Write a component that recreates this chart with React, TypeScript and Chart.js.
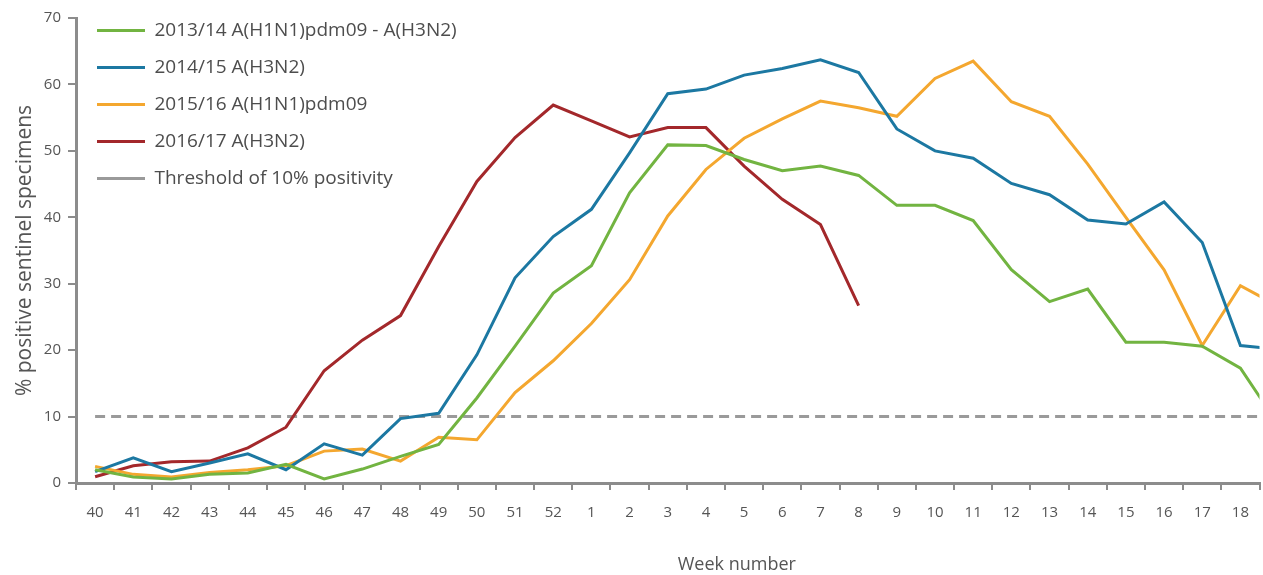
import { useEffect, useRef } from 'react';
import { Chart, registerables } from 'chart.js';

Chart.register(...registerables);

// Week labels (season weeks 40 -> 19); the plot is cut at week 18, week 19 only shows as the line leaving the frame
const WEEKS = ['40', '41', '42', '43', '44', '45', '46', '47', '48', '49', '50', '51', '52',
  '1', '2', '3', '4', '5', '6', '7', '8', '9', '10', '11', '12', '13', '14', '15', '16', '17', '18', '19'];
const LAST_VISIBLE_WEEK = '18';

const SEASON_2013_14 = [2.0, 0.9, 0.6, 1.3, 1.5, 2.8, 0.6, 2.1, 4.0, 5.8, 12.8, 20.6, 28.6,
  32.7, 43.7, 50.9, 50.8, 48.7, 47.0, 47.7, 46.3, 41.8, 41.8, 39.5, 32.1, 27.3, 29.2, 21.2, 21.2, 20.6, 17.3, 8.7];
const SEASON_2014_15 = [1.7, 3.8, 1.7, 3.0, 4.4, 2.0, 5.9, 4.2, 9.7, 10.5, 19.3, 30.9, 37.1,
  41.2, 49.7, 58.6, 59.3, 61.4, 62.4, 63.7, 61.8, 53.3, 50.0, 48.9, 45.1, 43.4, 39.6, 39.0, 42.3, 36.2, 20.7, 20.1];
const SEASON_2015_16 = [2.5, 1.3, 0.9, 1.6, 2.0, 2.6, 4.8, 5.1, 3.3, 6.9, 6.5, 13.6, 18.4,
  24.0, 30.6, 40.2, 47.2, 51.9, 54.8, 57.5, 56.5, 55.2, 60.9, 63.5, 57.4, 55.2, 48.0, 40.0, 32.1, 20.7, 29.7, 26.6];
const SEASON_2016_17 = [0.95, 2.6, 3.2, 3.3, 5.3, 8.4, 16.9, 21.5, 25.2, 35.6, 45.4, 52.0, 56.9,
  54.5, 52.1, 53.5, 53.5, 47.7, 42.7, 38.9, 26.7, null, null, null, null, null, null, null, null, null, null, null];
const THRESHOLD = 10;

const SERIES_LABELS = [
  '2013/14 A(H1N1)pdm09 - A(H3N2)',
  '2014/15 A(H3N2)',
  '2015/16 A(H1N1)pdm09',
  '2016/17 A(H3N2)',
  'Threshold of 10% positivity',
];
const Y_TICK_MIN = 0;
const Y_TICK_MAX = 70;
const Y_TICK_STEP = 10;

const FONT = '"Open Sans", sans-serif';
const TEXT = '#555555';
const AXIS = '#8c8c8c';

export default function App() {
  const canvasRef = useRef<HTMLCanvasElement | null>(null);

  useEffect(() => {
    if (!canvasRef.current) return;

    const lastIndex = WEEKS.indexOf(LAST_VISIBLE_WEEK);
    const toPoints = (values: (number | null)[]) => values.map((y, i) => ({ x: i, y }));

    const xTitlePlugin = {
      id: 'xTitle',
      afterDraw(chart: any) {
        const { ctx, chartArea } = chart;
        ctx.save();
        ctx.font = `18px ${FONT}`;
        ctx.fillStyle = TEXT;
        ctx.textAlign = 'center';
        ctx.textBaseline = 'middle';
        ctx.fillText('Week number', (chartArea.left + chartArea.right) / 2 + 69, 565);
        ctx.restore();
      },
    };

    const legendInsidePlugin = {
      id: 'legendInside',
      afterLayout(chart: any) {
        const lg = chart.legend;
        if (!lg) return;
        lg.left = 79;
        lg.top = 3;
        lg.right = 720;
        lg.bottom = 240;
      },
    };

    const line = (label: string, data: (number | null)[], color: string, dash: number[] = []) => ({
      label,
      data: toPoints(data),
      borderColor: color,
      backgroundColor: color,
      borderWidth: 3,
      borderDash: dash,
      pointRadius: 0,
      pointHoverRadius: 0,
      tension: 0,
      fill: false,
      spanGaps: false,
    });

    const chart = new Chart(canvasRef.current, {
      type: 'line',
      data: {
        datasets: [
          line(SERIES_LABELS[0], SEASON_2013_14, '#72b441'),
          line(SERIES_LABELS[1], SEASON_2014_15, '#1c78a2'),
          line(SERIES_LABELS[2], SEASON_2015_16, '#f4a72f'),
          line(SERIES_LABELS[3], SEASON_2016_17, '#a3282b'),
          line(SERIES_LABELS[4], WEEKS.map(() => THRESHOLD), '#9a9a9a', [10, 6]),
        ],
      },
      options: {
        animation: false,
        responsive: true,
        maintainAspectRatio: false,
        devicePixelRatio: 1,
        events: [],
        layout: { padding: { left: 0, right: 0, top: 18, bottom: 0 } },
        plugins: {
          tooltip: { enabled: false },
          title: { display: false },
          legend: {
            display: true,
            position: 'left',
            align: 'start',
            maxWidth: 0.01,
            labels: {
              usePointStyle: true,
              pointStyle: 'line',
              pointStyleWidth: 48,
              padding: 18,
              color: '#4d4d4d',
              font: { family: FONT, size: 19 },
            },
          },
        },
        scales: {
          x: {
            type: 'linear',
            min: -0.5,
            max: lastIndex + 0.5,
            afterFit: (s: any) => { s.height = 92; },
            afterBuildTicks: (s: any) => {
              s.ticks = WEEKS.slice(0, lastIndex + 1).map((_, i) => ({ value: i }));
            },
            grid: {
              display: true,
              drawOnChartArea: false,
              drawTicks: true,
              tickLength: 7,
              offset: true,
              color: AXIS,
              lineWidth: 2,
            },
            border: { display: true, color: AXIS, width: 3 },
            ticks: {
              autoSkip: false,
              maxRotation: 0,
              minRotation: 0,
              padding: 14,
              color: TEXT,
              font: { family: FONT, size: 15 },
              callback: (v: any) => WEEKS[Number(v)] ?? '',
            },
          },
          y: {
            type: 'linear',
            min: Y_TICK_MIN,
            max: Y_TICK_MAX,
            afterFit: (s: any) => { s.width = 76; },
            grid: {
              display: true,
              drawOnChartArea: false,
              drawTicks: true,
              tickLength: 8,
              color: AXIS,
              lineWidth: 2,
            },
            border: { display: true, color: AXIS, width: 3 },
            ticks: {
              stepSize: Y_TICK_STEP,
              padding: 7,
              color: TEXT,
              font: { family: FONT, size: 15 },
            },
            title: {
              display: true,
              text: '% positive sentinel specimens',
              color: TEXT,
              font: { family: FONT, size: 21 },
              padding: { top: 12, bottom: 0 },
            },
          },
        },
      },
      plugins: [legendInsidePlugin, xTitlePlugin],
    } as any);

    return () => chart.destroy();
  }, []);

  return (
    <div style={{ position: 'absolute', left: 0, top: 0, width: 1263, height: 575, background: '#fff' }}>
      <canvas ref={canvasRef} />
    </div>
  );
}
